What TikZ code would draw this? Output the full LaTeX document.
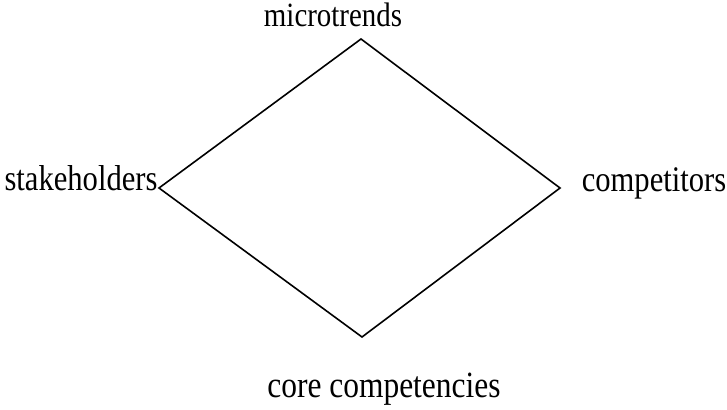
\documentclass[tikz,border=0pt]{standalone}
\usepackage{fontspec}
\usepackage{tikz}
\usetikzlibrary{positioning}
\newfontfamily\lblfont[FakeStretch=0.85]{Liberation Serif}

\begin{document}
\begin{tikzpicture}[x=1pt, y=-1pt,
    lbl/.style={anchor=base, inner sep=0pt, font=\lblfont\fontsize{36}{40}\selectfont}]
        \useasboundingbox (0,0) rectangle (727,409);
        % Diamond corners
        \coordinate (top) at (361,39);
        \coordinate (rgt) at (560,188);
        \coordinate (bot) at (362,337);
        \coordinate (lft) at (159,188);
        \draw[line width=1.6pt, line join=miter]
          (top) -- (rgt) -- (bot) -- (lft) -- cycle;
        % Labels
        \node[lbl, font=\lblfont\fontsize{34}{40}\selectfont] (micro) at (333,27) {microtrends};
        \node[lbl] (stake) at (81,190) {stakeholders};
        \node[lbl] (comp) at (654,191) {competitors};
        \node[lbl, font=\lblfont\fontsize{37}{40}\selectfont] (core) at (384,397) {core competencies};
      \end{tikzpicture}
\end{document}
